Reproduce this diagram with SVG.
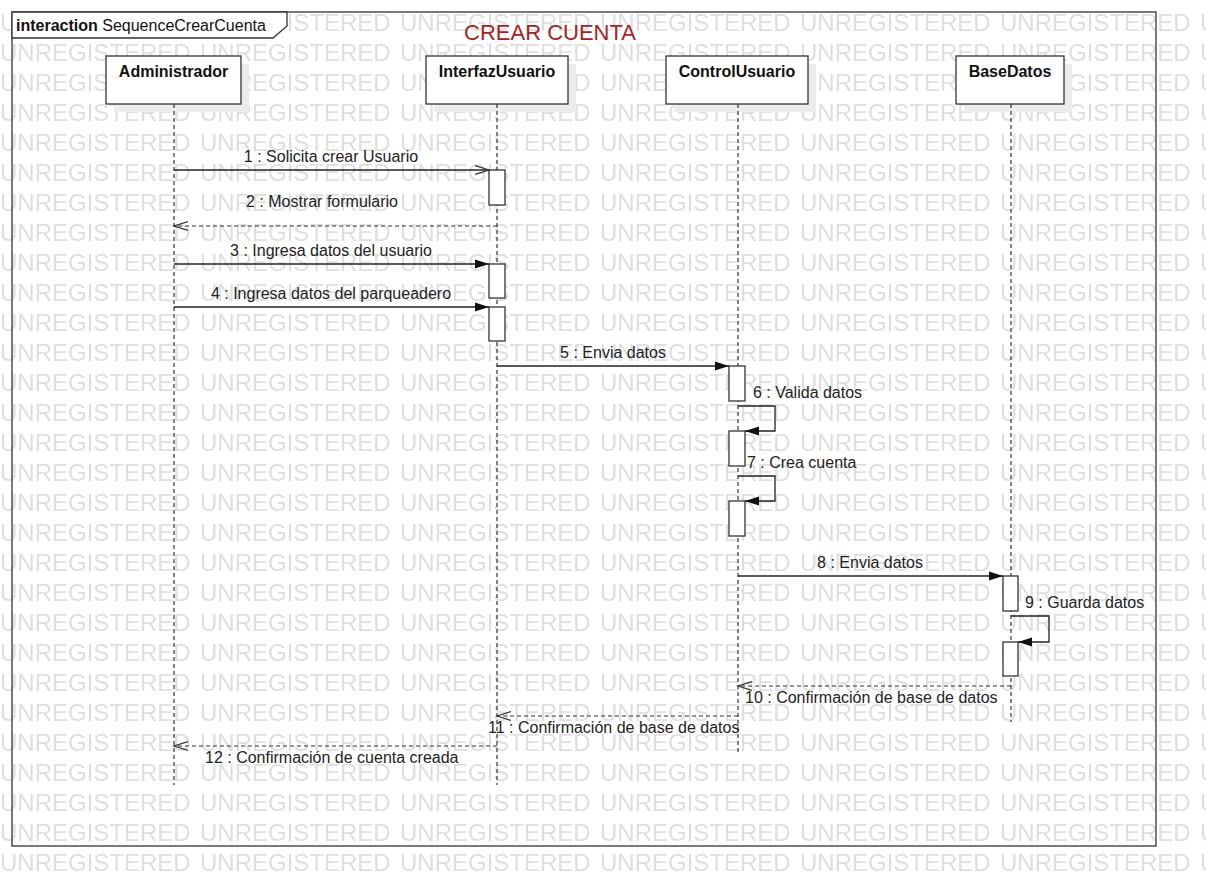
<svg xmlns="http://www.w3.org/2000/svg" width="1206" height="896" viewBox="0 0 1206 896">
<style>
text{font-family:"Liberation Sans",Arial,sans-serif;}
.wm{font-size:24px;fill:#dfdfdf;}
.lbl{font-size:16px;fill:#222;}
.hd{font-size:16px;fill:#111;font-weight:bold;}
.box{fill:#fff;stroke:#333;stroke-width:1.3;}
.shd{fill:#ececec;}
.act{fill:#fff;stroke:#333;stroke-width:1.3;}
.life{stroke:#333;stroke-width:1.2;stroke-dasharray:4 3;fill:none;}
.msg{stroke:#222;stroke-width:1.3;fill:none;}
.ret{stroke:#333;stroke-width:1.2;fill:none;stroke-dasharray:4 3;}
</style>
<defs>
<marker id="fill" markerUnits="userSpaceOnUse" markerWidth="15" markerHeight="11" refX="14" refY="5" orient="auto">
<path d="M0,0.5 L14,5 L0,9.5 z" fill="#111"/>
</marker>
<marker id="open" markerUnits="userSpaceOnUse" markerWidth="16" markerHeight="12" refX="14" refY="5.5" orient="auto">
<path d="M0,1 L14,5.5 L0,10" fill="none" stroke="#333" stroke-width="1.2"/>
</marker>
<pattern id="wmp" patternUnits="userSpaceOnUse" x="0" y="8" width="200" height="30">
<text class="wm" x="0" y="23">UNREGISTERED</text>
</pattern>
</defs>
<rect width="1206" height="896" fill="#fff"/>
<rect x="0" y="8" width="1206" height="870" fill="url(#wmp)"/>

<g id="frame">
<rect x="12" y="12" width="1144" height="834" fill="none" stroke="#333" stroke-width="1.3"/>
<path d="M12,12 L287,12 L287,26 L273,38 L12,38 z" fill="#fff" stroke="#333" stroke-width="1.3"/>
<text x="16" y="31" font-size="16" fill="#111"><tspan font-weight="bold">interaction</tspan> SequenceCrearCuenta</text>
<text x="550" y="40" font-size="22" fill="#a8231f" text-anchor="middle">CREAR CUENTA</text>
</g>

<g id="Administrador">
<rect class="shd" x="114" y="64" width="135" height="48"/>
<rect class="box" x="106" y="56" width="135" height="48"/>
<text class="hd" x="173.5" y="77" text-anchor="middle">Administrador</text>
<line class="life" x1="174" y1="104" x2="174" y2="785"/>
</g>
<g id="InterfazUsuario">
<rect class="shd" x="434" y="64" width="142" height="48"/>
<rect class="box" x="426" y="56" width="142" height="48"/>
<text class="hd" x="497" y="77" text-anchor="middle">InterfazUsuario</text>
<line class="life" x1="497" y1="104" x2="497" y2="785"/>
</g>
<g id="ControlUsuario">
<rect class="shd" x="674" y="64" width="142" height="48"/>
<rect class="box" x="666" y="56" width="142" height="48"/>
<text class="hd" x="737" y="77" text-anchor="middle">ControlUsuario</text>
<line class="life" x1="738" y1="104" x2="738" y2="753"/>
</g>
<g id="BaseDatos">
<rect class="shd" x="964" y="64" width="108" height="48"/>
<rect class="box" x="956" y="56" width="108" height="48"/>
<text class="hd" x="1010" y="77" text-anchor="middle">BaseDatos</text>
<line class="life" x1="1011" y1="104" x2="1011" y2="722"/>
</g>

<g id="activations">
<rect class="act" x="489" y="170" width="16" height="35"/>
<rect class="act" x="489" y="264" width="16" height="34"/>
<rect class="act" x="489" y="307" width="16" height="34"/>
<rect class="act" x="729" y="366" width="16" height="35"/>
<rect class="act" x="729" y="431" width="16" height="35"/>
<rect class="act" x="729" y="501" width="16" height="35"/>
<rect class="act" x="1003" y="576" width="15" height="35"/>
<rect class="act" x="1003" y="642" width="15" height="34"/>
</g>

<g id="connectors">
<line class="msg" x1="174" y1="170" x2="489" y2="170" marker-end="url(#open)"/>
<line class="ret" x1="497" y1="226" x2="174" y2="226" marker-end="url(#open)"/>
<line class="msg" x1="174" y1="264" x2="489" y2="264" marker-end="url(#fill)"/>
<line class="msg" x1="174" y1="307" x2="489" y2="307" marker-end="url(#fill)"/>
<line class="msg" x1="497" y1="366" x2="729" y2="366" marker-end="url(#fill)"/>
<polyline class="msg" points="738,406 775,406 775,431 745,431" marker-end="url(#fill)"/>
<polyline class="msg" points="738,476 775,476 775,501 745,501" marker-end="url(#fill)"/>
<line class="msg" x1="738" y1="576" x2="1003" y2="576" marker-end="url(#fill)"/>
<polyline class="msg" points="1011,616 1049,616 1049,642 1018,642" marker-end="url(#fill)"/>
<line class="ret" x1="1011" y1="686" x2="738" y2="686" marker-end="url(#open)"/>
<line class="ret" x1="738" y1="716" x2="497" y2="716" marker-end="url(#open)"/>
<line class="ret" x1="497" y1="746" x2="174" y2="746" marker-end="url(#open)"/>
</g>

<g id="labels">
<text class="lbl" x="331" y="162" text-anchor="middle">1 : Solicita crear Usuario</text>
<text class="lbl" x="322" y="207" text-anchor="middle">2 : Mostrar formulario</text>
<text class="lbl" x="331" y="256" text-anchor="middle">3 : Ingresa datos del usuario</text>
<text class="lbl" x="331" y="299" text-anchor="middle">4 : Ingresa datos del parqueadero</text>
<text class="lbl" x="613" y="358" text-anchor="middle">5 : Envia datos</text>
<text class="lbl" x="753" y="398">6 : Valida datos</text>
<text class="lbl" x="747" y="468">7 : Crea cuenta</text>
<text class="lbl" x="870" y="568" text-anchor="middle">8 : Envia datos</text>
<text class="lbl" x="1025" y="608">9 : Guarda datos</text>
<text class="lbl" x="745" y="703">10 : Confirmación de base de datos</text>
<text class="lbl" x="488" y="733">11 : Confirmación de base de datos</text>
<text class="lbl" x="205" y="763">12 : Confirmación de cuenta creada</text>
</g>
</svg>
